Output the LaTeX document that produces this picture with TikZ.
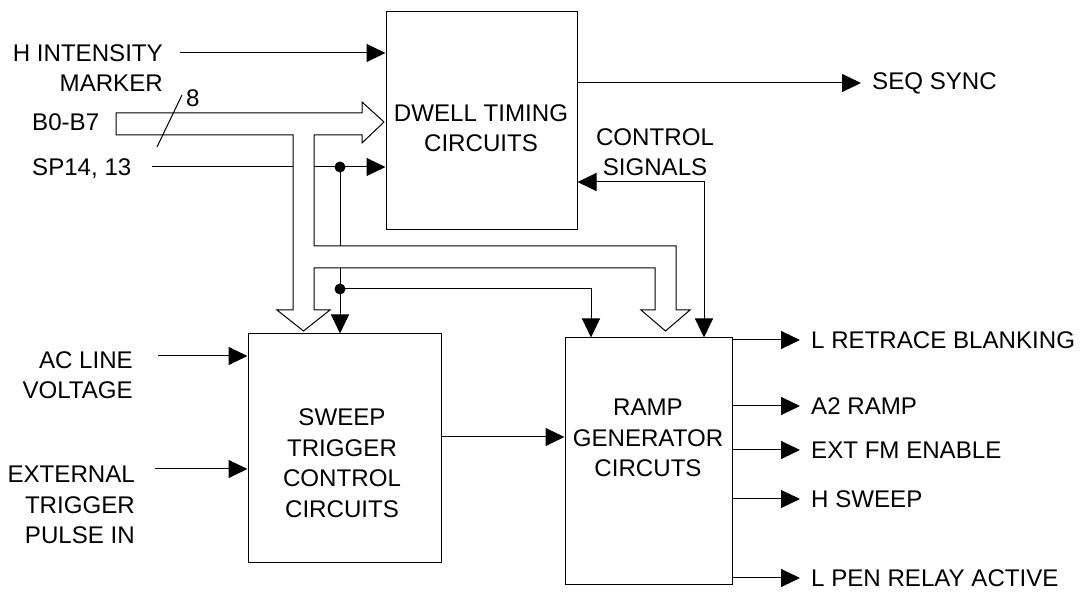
\documentclass[tikz,border=0pt]{standalone}
\usepackage{fontspec}
\setmainfont{Liberation Sans}
\usetikzlibrary{arrows.meta, positioning}

\tikzset{
    blk/.style={draw, line width=1pt, inner sep=0pt},
    lbl/.style={inner sep=0pt, font=\fontsize{24.1}{30.5}\selectfont},
    outlbl/.style={lbl, anchor=west, inner xsep=11pt},
    sig/.style={line width=1pt, -{Triangle[length=19pt,width=18pt]}},
    bus/.style={line width=1pt, fill=white, line join=miter},
    jdot/.style={circle, fill, inner sep=0pt, minimum size=11pt},
}

\begin{document}
\begin{tikzpicture}[x=1pt, y=-1pt]
    \useasboundingbox (0,0) rectangle (1080,593);

    % =================================================================
    % KHOI CHINH
    % =================================================================
    \node[blk, minimum width=191pt, minimum height=218pt] (dwell) at (481.5,121) {};
    \node[blk, minimum width=193pt, minimum height=229pt] (sweep) at (344.5,448.5) {};
    \node[blk, minimum width=167pt, minimum height=247pt] (ramp) at (648.5,461.5) {};

    \node[lbl, align=center] (dwelltxt) at (481,128) {DWELL TIMING\\CIRCUITS};
    \node[lbl, align=center] (sweeptxt) at (342,463) {SWEEP\\TRIGGER\\CONTROL\\CIRCUITS};
    \node[lbl, align=center] (ramptxt) at (648,438) {RAMP\\GENERATOR\\CIRCUTS};

    % =================================================================
    % NHAN DAU VAO
    % =================================================================
    \node[lbl, align=right, anchor=east] (hint) at (163,68) {H INTENSITY\\MARKER};
    \node[lbl, anchor=base west] (bbus) at (32,131) {B0-B7};
    \node[lbl, anchor=base west] (sp) at (32,176) {SP14, 13};
    \node[lbl, anchor=base west] (nbits) at (186,107) {8};
    \node[lbl, align=right, anchor=east] (acl) at (133,375) {AC LINE\\VOLTAGE};
    \node[lbl, align=right, anchor=east] (ext) at (135,505) {EXTERNAL\\TRIGGER\\PULSE IN};
    \node[lbl, align=center] (ctl) at (655,152) {CONTROL\\SIGNALS};

    % Diem bat dau cac duong tin hieu
    \coordinate (hin) at (180,53);
    \coordinate (spin) at (152,167);
    \coordinate (acin) at (158,356);
    \coordinate (extin) at (155,469);
    \coordinate (ja) at (340,167);
    \coordinate (jb) at (340,289);
    \coordinate (ctlx) at (704,182);

    % Cac duong vao
    \draw[sig] (hin) -- (hin -| dwell.west);
    \draw[sig] (spin) -- (spin -| dwell.west);
    \draw[sig] (acin) -- (acin -| sweep.west);
    \draw[sig] (extin) -- (extin -| sweep.west);

    % Nhanh tu SP14, 13
    \draw[sig] (ja) -- (ja |- sweep.north);
    \draw[sig] (jb) -- (jb -| 591,0) -- (591,0 |- ramp.north);
    \node[jdot] (dota) at (ja) {};
    \node[jdot] (dotb) at (jb) {};

    % Tin hieu dieu khien hai chieu
    \draw[sig, {Triangle[length=19pt,width=18pt]}-{Triangle[length=19pt,width=18pt]}]
        (ctlx -| dwell.east) -- (ctlx) -- (ctlx |- ramp.north);

    % SWEEP -> RAMP
    \draw[sig] (sweep.east |- 0,437) -- (ramp.west |- 0,437);

    % =================================================================
    % BUS B0-B7 (ve sau de che cac duong manh)
    % =================================================================
    \draw[bus] (116,113) -- (362,113) -- (362,102) -- (384,122) -- (362,143)
        -- (362,135) -- (314,135) -- (314,246) -- (676,246) -- (676,310)
        -- (690,310) -- (665.5,331) -- (641,310) -- (655,310) -- (655,268)
        -- (314,268) -- (314,310) -- (330,310) -- (303.5,331) -- (277,310)
        -- (293,310) -- (293,135) -- (116,135) -- cycle;
    \draw[line width=1pt] (157,147) -- (182,95);

    % =================================================================
    % DAU RA
    % =================================================================
    \node[outlbl] (seq) at (861,83) {SEQ SYNC};
    \node[outlbl] (lret) at (800,340) {L RETRACE BLANKING};
    \node[outlbl] (aramp) at (800,406) {A2 RAMP};
    \node[outlbl] (extfm) at (800,450) {EXT FM ENABLE};
    \node[outlbl] (hswp) at (800,499) {H SWEEP};
    \node[outlbl] (lpen) at (800,578) {L PEN RELAY ACTIVE};

    \draw[sig] (dwell.east |- seq.west) -- (seq.west);
    \foreach \o in {lret, aramp, extfm, hswp, lpen} {
        \draw[sig] (ramp.east |- \o.west) -- (\o.west);
    }

\end{tikzpicture}
\end{document}
